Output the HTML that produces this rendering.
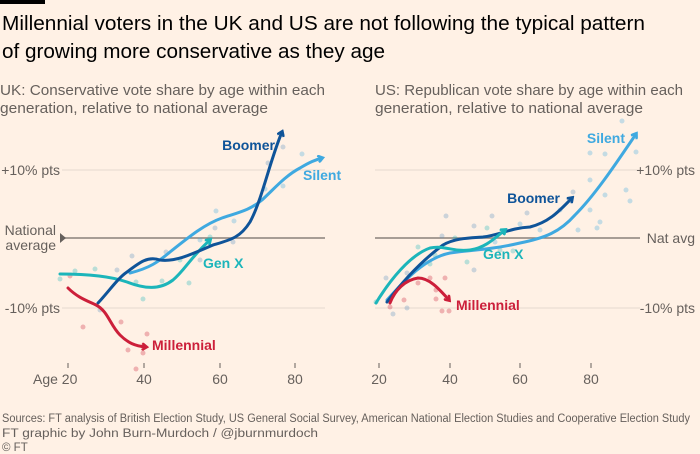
<!DOCTYPE html>
<html><head><meta charset="utf-8"><style>
html,body{margin:0;padding:0;background:#fff1e5;}
svg{display:block;font-family:"Liberation Sans",sans-serif;}
</style></head><body>
<svg width="700" height="454" viewBox="0 0 700 454" xmlns="http://www.w3.org/2000/svg">
<defs>
<marker id="aB" markerWidth="8" markerHeight="8" refX="5" refY="4" orient="auto" markerUnits="userSpaceOnUse"><path d="M1,0.5 L6,4 L1,7.5" fill="none" stroke="#0f5499" stroke-width="2.5"/></marker>
<marker id="aS" markerWidth="8" markerHeight="8" refX="5" refY="4" orient="auto" markerUnits="userSpaceOnUse"><path d="M1,0.5 L6,4 L1,7.5" fill="none" stroke="#3fa9e0" stroke-width="2.5"/></marker>
<marker id="aG" markerWidth="8" markerHeight="8" refX="5" refY="4" orient="auto" markerUnits="userSpaceOnUse"><path d="M1,0.5 L6,4 L1,7.5" fill="none" stroke="#1cb5ba" stroke-width="2.5"/></marker>
<marker id="aM" markerWidth="8" markerHeight="8" refX="5" refY="4" orient="auto" markerUnits="userSpaceOnUse"><path d="M1,0.5 L6,4 L1,7.5" fill="none" stroke="#cc1f3a" stroke-width="2.5"/></marker>
</defs>
<rect width="700" height="454" fill="#fff1e5"/>
<rect x="0" y="0" width="45" height="4" fill="#000"/>
<g fill="#000" font-size="20">
<text x="2" y="30" textLength="643" lengthAdjust="spacingAndGlyphs">Millennial voters in the UK and US are not following the typical pattern</text>
<text x="2" y="58" textLength="383" lengthAdjust="spacingAndGlyphs">of growing more conservative as they age</text>
</g>
<g fill="#66605c" font-size="15">
<text x="0" y="95" textLength="325" lengthAdjust="spacingAndGlyphs">UK: Conservative vote share by age within each</text>
<text x="0" y="113" textLength="268" lengthAdjust="spacingAndGlyphs">generation, relative to national average</text>
<text x="375" y="95" textLength="308" lengthAdjust="spacingAndGlyphs">US: Republican vote share by age within each</text>
<text x="375" y="113" textLength="268" lengthAdjust="spacingAndGlyphs">generation, relative to national average</text>
</g>
<g stroke="#e6d9ce" stroke-width="1">
<line x1="62" y1="170" x2="325" y2="170"/><line x1="62" y1="308" x2="325" y2="308"/>
<line x1="375" y1="170" x2="640" y2="170"/><line x1="375" y1="308" x2="640" y2="308"/>
</g>
<g stroke="#8a817b" stroke-width="1.5">
<line x1="62" y1="238" x2="325" y2="238"/><line x1="375" y1="238" x2="640" y2="238"/>
</g>
<path d="M60,233 L66,238 L60,243Z" fill="#66605c"/>
<g stroke="#66605c" stroke-width="1">
<line x1="68" y1="363" x2="68" y2="368"/><line x1="144" y1="363" x2="144" y2="368"/><line x1="220" y1="363" x2="220" y2="368"/><line x1="295" y1="363" x2="295" y2="368"/>
<line x1="379" y1="363" x2="379" y2="368"/><line x1="450" y1="363" x2="450" y2="368"/><line x1="520" y1="363" x2="520" y2="368"/><line x1="591" y1="363" x2="591" y2="368"/>
</g>
<g fill="#66605c" font-size="14">
<text x="60" y="175" text-anchor="end">+10% pts</text>
<text x="60" y="313" text-anchor="end">-10% pts</text>
<text x="56" y="235" text-anchor="end">National</text>
<text x="56" y="250" text-anchor="end">average</text>
<text x="33" y="384">Age 20</text>
<text x="144" y="384" text-anchor="middle">40</text>
<text x="220" y="384" text-anchor="middle">60</text>
<text x="295" y="384" text-anchor="middle">80</text>
<text x="379" y="384" text-anchor="middle">20</text>
<text x="450" y="384" text-anchor="middle">40</text>
<text x="520" y="384" text-anchor="middle">60</text>
<text x="591" y="384" text-anchor="middle">80</text>
<text x="695" y="175" text-anchor="end">+10% pts</text>
<text x="695" y="313" text-anchor="end">-10% pts</text>
<text x="695" y="243" text-anchor="end">Nat avg</text>
</g>
<g opacity="0.3" fill="#5a8fbf">
<circle cx="100" cy="310" r="2.5"/><circle cx="132" cy="256" r="2.5"/><circle cx="117" cy="270" r="2.5"/><circle cx="166" cy="252" r="2.5"/><circle cx="200" cy="260" r="2.5"/><circle cx="233" cy="242" r="2.5"/><circle cx="268" cy="163" r="2.5"/><circle cx="283" cy="147" r="2.5"/><circle cx="215" cy="228" r="2.5"/>
<circle cx="386" cy="278" r="2.5"/><circle cx="393" cy="314" r="2.5"/><circle cx="407" cy="273" r="2.5"/><circle cx="446" cy="216" r="2.5"/><circle cx="442" cy="236" r="2.5"/><circle cx="474" cy="226" r="2.5"/><circle cx="492" cy="216" r="2.5"/><circle cx="527" cy="213" r="2.5"/><circle cx="573" cy="192" r="2.5"/><circle cx="474" cy="270" r="2.5"/><circle cx="407" cy="308" r="2.5"/>
</g>
<g opacity="0.3" fill="#3fa9e0">
<circle cx="265" cy="189" r="2.5"/><circle cx="302" cy="154" r="2.5"/><circle cx="283" cy="186" r="2.5"/><circle cx="216" cy="211" r="2.5"/><circle cx="234" cy="221" r="2.5"/><circle cx="200" cy="240" r="2.5"/>
<circle cx="590" cy="153" r="2.5"/><circle cx="605" cy="154" r="2.5"/><circle cx="622" cy="121" r="2.5"/><circle cx="636" cy="152" r="2.5"/><circle cx="590" cy="180" r="2.5"/><circle cx="605" cy="195" r="2.5"/><circle cx="626" cy="190" r="2.5"/><circle cx="590" cy="210" r="2.5"/><circle cx="597" cy="228" r="2.5"/><circle cx="630" cy="201" r="2.5"/><circle cx="560" cy="210" r="2.5"/><circle cx="578" cy="230" r="2.5"/><circle cx="600" cy="222" r="2.5"/><circle cx="520" cy="224" r="2.5"/><circle cx="540" cy="230" r="2.5"/><circle cx="495" cy="242" r="2.5"/>
</g>
<g opacity="0.3" fill="#1cb5ba">
<circle cx="60" cy="279" r="2.5"/><circle cx="75" cy="271" r="2.5"/><circle cx="95" cy="269" r="2.5"/><circle cx="136" cy="282" r="2.5"/><circle cx="143" cy="299" r="2.5"/><circle cx="162" cy="281" r="2.5"/><circle cx="189" cy="283" r="2.5"/><circle cx="180" cy="260" r="2.5"/><circle cx="210" cy="237" r="2.5"/>
<circle cx="376" cy="302" r="2.5"/><circle cx="418" cy="247" r="2.5"/><circle cx="435" cy="255" r="2.5"/><circle cx="467" cy="262" r="2.5"/><circle cx="455" cy="238" r="2.5"/><circle cx="487" cy="228" r="2.5"/><circle cx="500" cy="250" r="2.5"/><circle cx="513" cy="251" r="2.5"/><circle cx="430" cy="264" r="2.5"/>
</g>
<g opacity="0.3" fill="#cc1f3a">
<circle cx="83" cy="327" r="2.5"/><circle cx="121" cy="322" r="2.5"/><circle cx="128" cy="350" r="2.5"/><circle cx="143" cy="353" r="2.5"/><circle cx="147" cy="334" r="2.5"/><circle cx="136" cy="369" r="2.5"/><circle cx="70" cy="276" r="2.5"/>
<circle cx="390" cy="307" r="2.5"/><circle cx="404" cy="300" r="2.5"/><circle cx="418" cy="283" r="2.5"/><circle cx="430" cy="278" r="2.5"/><circle cx="436" cy="290" r="2.5"/><circle cx="442" cy="311" r="2.5"/><circle cx="449" cy="311" r="2.5"/><circle cx="445" cy="278" r="2.5"/><circle cx="436" cy="299" r="2.5"/>
</g>
<g fill="none" stroke-width="3" stroke-linecap="round" stroke-linejoin="round">
<path d="M60,274 C85,274 110,276 127,282 C145,289 160,290 173,280 C185,270 190,258 210,240" stroke="#1cb5ba" marker-end="url(#aG)"/>
<path d="M130,273 C150,268 158,262 170,252 C190,236 205,224 222,218 C240,212 250,210 262,200 C275,188 285,176 300,168 C310,162 315,160 322,158" stroke="#3fa9e0" marker-end="url(#aS)"/>
<path d="M98,303 C110,290 118,278 127,272 C140,262 148,256 160,260 C175,262 190,255 213,245 C230,240 240,238 250,222 C262,200 270,160 282,132" stroke="#0f5499" marker-end="url(#aB)"/>
<path d="M68,288 C78,298 88,301 96,305 C108,311 110,325 120,335 C128,343 135,346 146,347" stroke="#cc1f3a" marker-end="url(#aM)"/>
</g>
<g fill="none" stroke-width="3" stroke-linecap="round" stroke-linejoin="round">
<path d="M387,300 C405,280 425,258 450,253 C470,250 490,250 520,243 C545,238 560,232 575,215 C595,195 615,165 636,134" stroke="#3fa9e0" marker-end="url(#aS)"/>
<path d="M387,302 C400,285 420,262 443,245 C455,238 470,238 483,237 C500,235 510,228 530,227 C550,222 560,210 572,198" stroke="#0f5499" marker-end="url(#aB)"/>
<path d="M376,303 C390,280 410,255 430,248 C445,245 452,252 470,250 C485,248 495,238 505,230" stroke="#1cb5ba" marker-end="url(#aG)"/>
<path d="M390,303 C395,290 405,280 418,278 C430,278 440,290 449,300" stroke="#cc1f3a" marker-end="url(#aM)"/>
</g>
<g font-size="14" font-weight="bold">
<text x="275" y="150" text-anchor="end" fill="#0f5499">Boomer</text>
<text x="303" y="180" fill="#3fa9e0">Silent</text>
<text x="203" y="268" fill="#1cb5ba">Gen X</text>
<text x="152" y="350" fill="#cc1f3a">Millennial</text>
<text x="625" y="143" text-anchor="end" fill="#3fa9e0">Silent</text>
<text x="560" y="203" text-anchor="end" fill="#0f5499">Boomer</text>
<text x="483" y="259" fill="#1cb5ba">Gen X</text>
<text x="456" y="310" fill="#cc1f3a">Millennial</text>
</g>
<g fill="#66605c" font-size="11.5">
<text x="2" y="422" textLength="688" lengthAdjust="spacingAndGlyphs">Sources: FT analysis of British Election Study, US General Social Survey, American National Election Studies and Cooperative Election Study</text>
<text x="2" y="437" textLength="316" lengthAdjust="spacingAndGlyphs">FT graphic by John Burn-Murdoch / @jburnmurdoch</text>
<text x="2" y="451">© FT</text>
</g>
</svg>
</body></html>
